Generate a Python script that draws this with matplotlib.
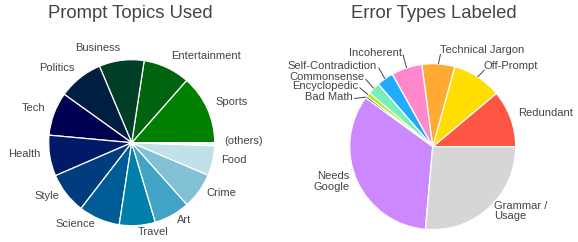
import numpy as np
import matplotlib
matplotlib.use("Agg")
import matplotlib.pyplot as plt

plt.rcParams['font.family'] = ['Liberation Sans', 'DejaVu Sans']

# ---- data ----
topic_labels = ["Sports", "Entertainment", "Business", "Politics", "Tech", "Health",
                "Style", "Science", "Travel", "Art", "Crime", "Food", "(others)"]
topic_values = [13.5, 9.1, 8.75, 8.75, 8.45, 7.95, 8.05, 8.05, 7.0, 7.0, 7.0, 5.8, 0.6]
topic_colors = ["#008000", "#00640f", "#003f26", "#001f40", "#000050", "#001a68",
                "#003d7e", "#005c96", "#0080a8", "#42a3c4", "#82c0d5", "#c0e1ea", "#f2f9fb"]

error_labels = ["Redundant", "Off-Prompt", "Technical Jargon", "Incoherent",
                "Self-Contradiction", "Commonsense", "Encyclopedic", "Bad Math",
                "Needs\nGoogle", "Grammar /\nUsage"]
error_values = [11.1, 9.6, 6.4, 6.0, 3.3, 2.4, 0.8, 0.4, 33.6, 26.4]
error_colors = ["#ff5544", "#ffdd00", "#ffaa33", "#ff88cc", "#22aaff", "#77eebb",
                "#aaee00", "#222222", "#cc88ff", "#d6d6d6"]

W, H = 578, 242
fig = plt.figure(figsize=(W / 100, H / 100), dpi=100)
ax = fig.add_axes([0, 0, 1, 1])

TXT = "#444444"
FS = 8
R = 83

def py(y):
    return H - y

def fix_labels(wedges, texts, dy=3):
    for w, t in zip(wedges, texts):
        ang = np.deg2rad((w.theta1 + w.theta2) / 2)
        ha = "left" if np.cos(ang) >= 0 else "right"
        t.set_ha(ha)
        t.set_multialignment(ha)
        t.set_va("center")
        x, y = t.get_position()
        t.set_position((x, y + dy))
        t.set_linespacing(1.05)

# ---- left pie ----
cL = (131.7, py(142.7))
wedges, texts = ax.pie(topic_values, labels=topic_labels, colors=topic_colors,
                       startangle=0, counterclock=True, radius=R, center=cL,
                       labeldistance=1.11, frame=True,
                       wedgeprops=dict(edgecolor="white", linewidth=0.9),
                       textprops=dict(color=TXT, fontsize=FS))
fix_labels(wedges, texts)

# ---- right pie ----
cR = (432.7, py(146.7))
callout = {"Off-Prompt", "Technical Jargon", "Incoherent", "Self-Contradiction",
           "Commonsense", "Encyclopedic", "Bad Math"}
plain_labels = ["" if l in callout else l for l in error_labels]
wedgesR, textsR = ax.pie(error_values, labels=plain_labels, colors=error_colors,
                         startangle=0, counterclock=True, radius=R, center=cR,
                         labeldistance=1.1, frame=True,
                         wedgeprops=dict(edgecolor="white", linewidth=0.9),
                         textprops=dict(color=TXT, fontsize=FS))
fix_labels(wedgesR, textsR)

# callout label anchor positions (image pixels) and alignment
callout_pos = {
    "Off-Prompt": (484, 66, "left"),
    "Technical Jargon": (440, 50, "left"),
    "Incoherent": (401.5, 53, "right"),
    "Self-Contradiction": (377, 66, "right"),
    "Commonsense": (364, 77.5, "right"),
    "Encyclopedic": (358, 86, "right"),
    "Bad Math": (352.5, 97, "right"),
}
for w, lab in zip(wedgesR, error_labels):
    if lab not in callout:
        continue
    lx, ly, ha = callout_pos[lab]
    ang = np.deg2rad((w.theta1 + w.theta2) / 2)
    ex = cR[0] + R * np.cos(ang)
    ey = cR[1] + R * np.sin(ang)
    ax.text(lx, py(ly), lab, ha=ha, va="center", color=TXT, fontsize=FS)
    if ha == "left":
        endx, endy = lx + 0.5, py(ly + 4)
    else:
        endx, endy = lx + 1.5, py(ly + 1.5)
    ax.plot([ex, endx], [ey, endy], color="#444444", lw=0.7, solid_capstyle="butt")

# titles
ax.text(130.5, py(14), "Prompt Topics Used", ha="center", va="center",
        fontsize=13.3, color=TXT)
ax.text(433.7, py(13), "Error Types Labeled", ha="center", va="center",
        fontsize=13.3, color=TXT)

ax.set_xlim(0, W)
ax.set_ylim(0, H)
ax.set_aspect("auto")
ax.set_axis_off()

fig.savefig("out.png", dpi=100, facecolor="white")
